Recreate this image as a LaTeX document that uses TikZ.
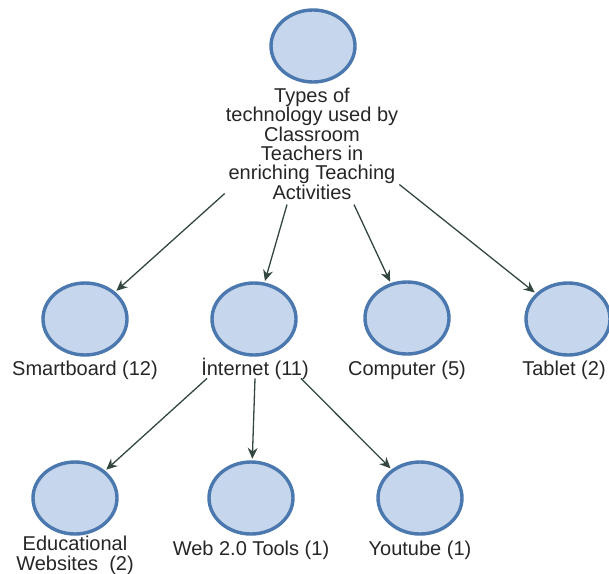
\documentclass[tikz,border=0pt]{standalone}
\usepackage{fontspec}
\setmainfont{Liberation Sans}
\usetikzlibrary{arrows.meta,shapes.geometric}
\definecolor{topicfill}{HTML}{C6D6EC}
\definecolor{topicedge}{HTML}{4B78AE}
\definecolor{linkgray}{HTML}{34473F}
\definecolor{labgray}{HTML}{262626}
\tikzset{
  topic/.style={ellipse, draw=topicedge, fill=topicfill, line width=3.4pt,
    minimum width=84pt, minimum height=72pt, inner sep=0pt},
  topiclab/.style={font=\fontsize{20}{19.3}\selectfont, text=labgray,
    align=center, inner sep=1pt},
  link/.style={-{Stealth[length=11pt, width=10pt]}, draw=linkgray,
    line width=1.3pt, shorten >=1.5pt},
}

\begin{document}
\begin{tikzpicture}[x=1pt, y=-1pt]
\useasboundingbox (0,0) rectangle (609,573);
% root topic
\node[topic] (root) at (313,46) {};
\node[topiclab, anchor=north] (rootlab) at (312,87) {Types of\\technology used by\\Classroom\\Teachers in\\enriching Teaching\\Activities};
% second level
\node[topic] (smart) at (85,319) {};
\node[topic] (inet) at (254,319) {};
\node[topic] (comp) at (407,318) {};
\node[topic] (tab) at (568,319) {};
\node[topiclab, anchor=base] (smartlab) at (85,375) {Smartboard (12)};
\node[topiclab, anchor=base] (inetlab) at (255,375) {İnternet (11)};
\node[topiclab, anchor=base] (complab) at (407,375) {Computer (5)};
\node[topiclab, anchor=base] (tablab) at (564,375) {Tablet (2)};
% third level
\node[topic] (edu) at (75,498) {};
\node[topic] (web) at (251,498) {};
\node[topic] (yt) at (420,498) {};
\node[topiclab, anchor=north] (edulab) at (75,535) {Educational\\Websites~~(2)};
\node[topiclab, anchor=base] (weblab) at (251,555) {Web 2.0 Tools (1)};
\node[topiclab, anchor=base] (ytlab) at (420,555) {Youtube (1)};
% links
\draw[link] ([yshift=7pt]rootlab.south west) -- (smart);
\draw[link] ([xshift=-25pt, yshift=-4pt]rootlab.south) -- (inet);
\draw[link] ([xshift=42pt, yshift=-4pt]rootlab.south) -- (comp);
\draw[link] (rootlab.-25) -- (tab);
\draw[link] ([xshift=7pt, yshift=2pt]inetlab.south west) -- (edu);
\draw[link] ([yshift=2pt]inetlab.south) -- (web);
\draw[link] ([xshift=-9pt, yshift=2pt]inetlab.south east) -- (yt);
\end{tikzpicture}
\end{document}
